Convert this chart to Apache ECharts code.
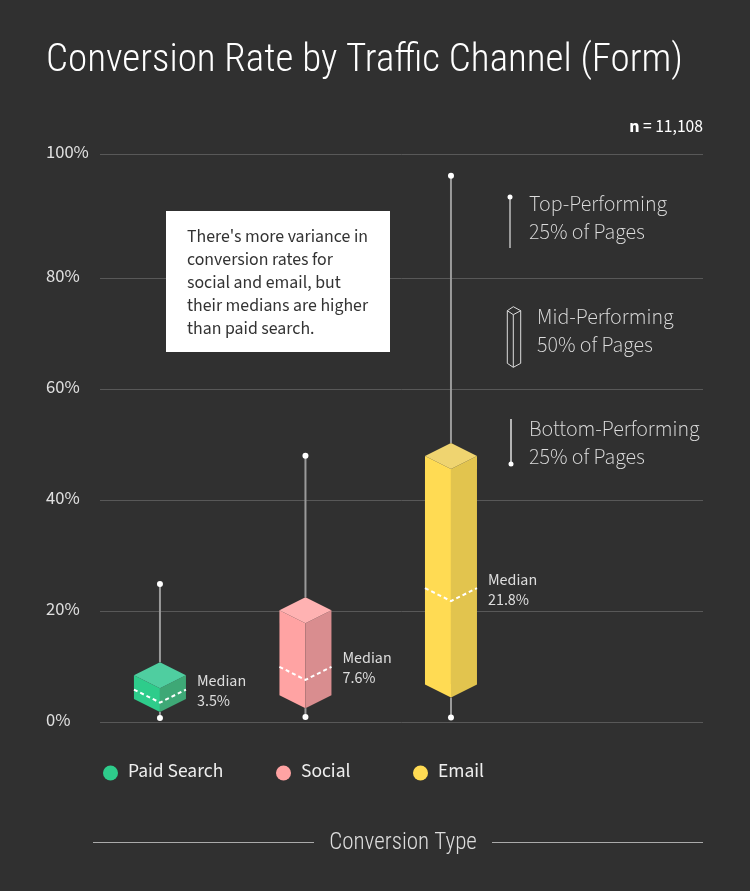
<!DOCTYPE html>
<html>
<head>
<meta charset="utf-8">
<script src="https://cdn.jsdelivr.net/npm/echarts@6/dist/echarts.min.js"></script>
<style>
html,body{margin:0;padding:0;background:#303030;}
#chart{width:750px;height:891px;}
</style>
</head>
<body>
<div id="chart"></div>
<script>
// ---- data ----
const categories = ['Paid Search', 'Social', 'Email'];
const categoryPositions = [0, 1, 2];
const minValues = [0.7, 0.9, 0.8];
const q1Values = [1.8, 2.5, 4.4];
const medianValues = [3.5, 7.6, 21.8];
const q3Values = [6.1, 17.8, 45.6];
const maxValues = [24.9, 48.0, 98.5];
const yTickValues = [0, 20, 40, 60, 80, 102.4];
const yTickLabels = ['0%', '20%', '40%', '60%', '80%', '100%'];
const sampleSize = '11,108';
const noteText = "There's more variance in\nconversion rates for\nsocial and email, but\ntheir medians are higher\nthan paid search.";

// ---- styles ----
const faceColors = [
  { left: '#2ecc8b', right: '#3ea876', top: '#4fcea0', dot: '#2ecc8b' },
  { left: '#ffa3a3', right: '#d98d8f', top: '#ffb2b2', dot: '#ffa3a3' },
  { left: '#ffdb53', right: '#e2c44e', top: '#efd470', dot: '#ffdb53' }
];
const bodyFont = "'Source Sans Pro', 'Source Sans 3', Lato, 'Noto Sans', sans-serif";
const condFont = "'Roboto Condensed', 'Liberation Sans Narrow', 'DejaVu Sans Condensed', sans-serif";

const chart = echarts.init(document.getElementById('chart'), null, { renderer: 'canvas' });

function makeRender(idx) {
  const col = faceColors[idx];
  return function (params, api) {
    const x = api.value(0);
    const p = (v) => api.coord([x, v]);
    const cx = p(api.value(1))[0];
    const yMin = p(api.value(1))[1];
    const yQ1 = p(api.value(2))[1];
    const yMed = p(api.value(3))[1];
    const yQ3 = p(api.value(4))[1];
    const yMax = p(api.value(5))[1];
    const w = 26, d = 13;
    const med = api.value(3);
    return {
      type: 'group',
      children: [
        { type: 'line', shape: { x1: cx, y1: yMax, x2: cx, y2: yQ3 - 2 * d }, style: { stroke: '#9a9a9a', lineWidth: 2 } },
        { type: 'line', shape: { x1: cx, y1: yQ1, x2: cx, y2: yMin }, style: { stroke: '#9a9a9a', lineWidth: 2 } },
        { type: 'circle', shape: { cx: cx, cy: yMax, r: 3 }, style: { fill: '#ffffff' } },
        { type: 'circle', shape: { cx: cx, cy: yMin, r: 3 }, style: { fill: '#ffffff' } },
        { type: 'polygon', shape: { points: [[cx - w, yQ3 - d], [cx, yQ3], [cx, yQ1], [cx - w, yQ1 - d]] }, style: { fill: col.left } },
        { type: 'polygon', shape: { points: [[cx, yQ3], [cx + w, yQ3 - d], [cx + w, yQ1 - d], [cx, yQ1]] }, style: { fill: col.right } },
        { type: 'polygon', shape: { points: [[cx, yQ3 - 2 * d], [cx - w, yQ3 - d], [cx, yQ3], [cx + w, yQ3 - d]] }, style: { fill: col.top } },
        { type: 'polyline', shape: { points: [[cx - w, yMed - d], [cx, yMed], [cx + w, yMed - d]] }, style: { stroke: '#ffffff', lineWidth: 2, lineDash: [4, 3], fill: null } },
        { type: 'text', x: cx + 37, y: yMed - 10, style: { text: 'Median\n' + med + '%', fill: '#dddddd', font: '16px ' + bodyFont, lineHeight: 20, verticalAlign: 'middle', align: 'left' } }
      ]
    };
  };
}

const series = categories.map((name, i) => ({
  name: name,
  type: 'custom',
  clip: false,
  itemStyle: { color: faceColors[i].dot },
  renderItem: makeRender(i),
  encode: { x: 0, y: [1, 2, 3, 4, 5] },
  data: [[categoryPositions[i], minValues[i], q1Values[i], medianValues[i], q3Values[i], maxValues[i]]]
}));

const legendLefts = [103, 276, 413];
const legends = categories.map((name, i) => ({
  data: [{ name: name, icon: 'circle', itemStyle: { color: faceColors[i].dot } }],
  left: legendLefts[i],
  top: 763,
  padding: 0,
  itemWidth: 25,
  itemHeight: 15,
  itemGap: 0,
  selectedMode: false,
  textStyle: { color: '#eeeeee', fontSize: 19.5, fontFamily: bodyFont }
}));

const option = {
  backgroundColor: '#303030',
  animation: false,
  title: {
    text: 'Conversion Rate by Traffic Channel (Form)',
    left: 41,
    top: 37,
    textStyle: { color: '#ffffff', fontSize: 39, fontWeight: 300, fontFamily: condFont }
  },
  legend: legends,
  grid: { left: 100, right: 47, top: 154, bottom: 169 },
  xAxis: {
    type: 'value',
    min: -0.412,
    max: 3.732,
    show: false
  },
  yAxis: {
    type: 'value',
    min: 0,
    max: 102.4,
    axisLine: { show: false },
    axisTick: { show: false, customValues: yTickValues },
    splitLine: { show: true, lineStyle: { color: '#585858', width: 1 } },
    axisLabel: {
      customValues: yTickValues,
      align: 'left',
      margin: 54,
      color: '#e0e0e0',
      fontSize: 18.5,
      padding: [4, 0, 0, 0],
      fontFamily: bodyFont,
      formatter: function (v) { return yTickLabels[yTickValues.indexOf(v)]; }
    }
  },
  graphic: [
    { type: 'text', right: 47, top: 119, z: 10, style: { text: '{b|n} = ' + sampleSize, rich: { b: { fontWeight: 'bold', fontSize: 18, fill: '#ffffff', fontFamily: bodyFont } }, fill: '#ffffff', font: '17.5px ' + bodyFont } },
    {
      type: 'group', left: 166, top: 211, z: 10,
      children: [
        { type: 'rect', z: 10, shape: { x: 0, y: 0, width: 224, height: 141 }, style: { fill: '#ffffff' } },
        { type: 'text', z: 11, x: 21, y: 16, style: { text: noteText, fill: '#333333', font: '17.8px ' + bodyFont, lineHeight: 23 } }
      ]
    },
    // right-side key
    { type: 'line', shape: { x1: 510, y1: 197, x2: 510, y2: 248 }, style: { stroke: '#9a9a9a', lineWidth: 2 } },
    { type: 'circle', shape: { cx: 510, cy: 197, r: 2.5 }, style: { fill: '#ffffff' } },
    { type: 'text', x: 529, y: 192, style: { text: 'Top-Performing\n25% of Pages', fill: '#dddddd', font: '300 21.8px ' + bodyFont, lineHeight: 28 } },
    { type: 'polyline', shape: { points: [[513.3, 306.7], [507.3, 310.7], [507.3, 363.3], [513.3, 367.3], [520.7, 363.3], [520.7, 310.7], [513.3, 306.7]] }, style: { stroke: '#dddddd', lineWidth: 1, fill: null } },
    { type: 'polyline', shape: { points: [[507.3, 310.7], [513.3, 314.7], [520.7, 310.7]] }, style: { stroke: '#dddddd', lineWidth: 1, fill: null } },
    { type: 'line', shape: { x1: 513.3, y1: 314.7, x2: 513.3, y2: 367.3 }, style: { stroke: '#dddddd', lineWidth: 1 } },
    { type: 'text', x: 537, y: 305, style: { text: 'Mid-Performing\n50% of Pages', fill: '#dddddd', font: '300 21.8px ' + bodyFont, lineHeight: 28 } },
    { type: 'line', shape: { x1: 511, y1: 419, x2: 511, y2: 464 }, style: { stroke: '#e0e0e0', lineWidth: 1.5 } },
    { type: 'circle', shape: { cx: 511, cy: 464, r: 2.5 }, style: { fill: '#ffffff' } },
    { type: 'text', x: 529, y: 417, style: { text: 'Bottom-Performing\n25% of Pages', fill: '#dddddd', font: '300 21.8px ' + bodyFont, lineHeight: 28 } },
    // axis title
    { type: 'line', shape: { x1: 93, y1: 842.5, x2: 314, y2: 842.5 }, style: { stroke: '#aaaaaa', lineWidth: 1 } },
    { type: 'line', shape: { x1: 492, y1: 842.5, x2: 703, y2: 842.5 }, style: { stroke: '#aaaaaa', lineWidth: 1 } },
    { type: 'text', x: 403, y: 843, style: { text: 'Conversion Type', fill: '#dddddd', font: '300 23px ' + condFont, align: 'center', verticalAlign: 'middle' } }
  ],
  series: series
};
chart.setOption(option);
</script>
</body>
</html>
